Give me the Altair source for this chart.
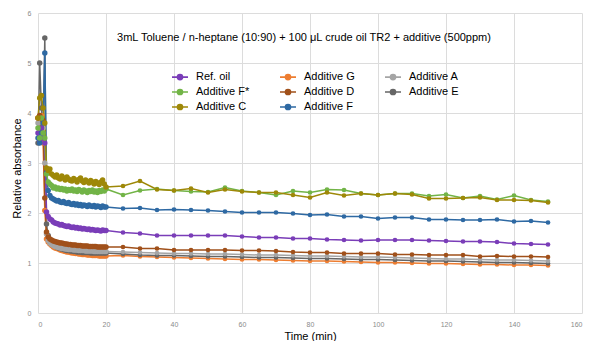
import altair as alt
import pandas as pd

# ---------------- data ----------------
series = ["Ref. oil", "Additive G", "Additive A",
          "Additive F*", "Additive D", "Additive E",
          "Additive C", "Additive F"]
colors = ["#7a3db8", "#ed7d31", "#a5a5a5",
          "#72b447", "#a0501a", "#666666",
          "#9e8808", "#2e69a3"]

dense_t = [i * 0.5 for i in range(41)]          # 0 .. 20 min
sparse_t = [25 + 5 * i for i in range(26)]      # 25 .. 150 min

ref_dense = [3.6, 3.45, 3.7, 3.5, 3.4, 2.02, 1.93, 1.88, 1.86, 1.82, 1.80, 1.79, 1.78, 1.76, 1.77, 1.75,
             1.74, 1.73, 1.74, 1.72, 1.71, 1.72, 1.70, 1.71, 1.69, 1.70, 1.68, 1.69, 1.68, 1.67, 1.68,
             1.66, 1.67, 1.66, 1.65, 1.66, 1.65, 1.64, 1.66, 1.65, 1.65]
ref_sparse = [1.61, 1.59, 1.55, 1.55, 1.55, 1.55, 1.55, 1.53, 1.51, 1.51, 1.49, 1.49, 1.47, 1.46, 1.45,
              1.46, 1.46, 1.46, 1.45, 1.44, 1.43, 1.43, 1.42, 1.39, 1.38, 1.37]

g_dense = [3.9, 3.6, 3.95, 3.4, 2.05, 1.48, 1.42, 1.38, 1.35, 1.32, 1.30, 1.29, 1.28, 1.26, 1.25, 1.24,
           1.23, 1.22, 1.22, 1.21, 1.20, 1.20, 1.19, 1.19, 1.18, 1.18, 1.17, 1.17, 1.17, 1.16, 1.16,
           1.16, 1.15, 1.15, 1.15, 1.15, 1.14, 1.14, 1.14, 1.14, 1.14]
g_sparse = [1.15, 1.13, 1.12, 1.11, 1.10, 1.09, 1.08, 1.07, 1.07, 1.06, 1.05, 1.04, 1.04, 1.03, 1.02,
            1.01, 1.01, 1.00, 0.99, 0.99, 0.98, 0.97, 0.97, 0.96, 0.96, 0.95]

a_dense = [3.8, 3.6, 3.5, 3.7, 3.0, 1.58, 1.45, 1.40, 1.37, 1.35, 1.33, 1.32, 1.31, 1.30, 1.29, 1.29,
           1.28, 1.28, 1.27, 1.27, 1.27, 1.26, 1.26, 1.26, 1.25, 1.25, 1.25, 1.25, 1.24, 1.24, 1.24,
           1.24, 1.24, 1.23, 1.23, 1.23, 1.23, 1.23, 1.23, 1.23, 1.23]
a_sparse = [1.22, 1.21, 1.20, 1.19, 1.19, 1.18, 1.18, 1.17, 1.16, 1.16, 1.15, 1.14, 1.14, 1.13, 1.12,
            1.12, 1.11, 1.10, 1.09, 1.08, 1.08, 1.07, 1.06, 1.06, 1.05, 1.04]

fs_dense = [3.7, 3.5, 3.9, 3.6, 3.5, 2.78, 2.62, 2.58, 2.55, 2.50, 2.52, 2.48, 2.50, 2.47, 2.49, 2.46,
            2.48, 2.44, 2.47, 2.45, 2.48, 2.44, 2.46, 2.43, 2.47, 2.45, 2.42, 2.46, 2.44, 2.41, 2.45,
            2.43, 2.46, 2.42, 2.44, 2.41, 2.45, 2.43, 2.46, 2.44, 2.48]
fs_sparse = [2.36, 2.45, 2.48, 2.45, 2.43, 2.42, 2.51, 2.44, 2.41, 2.36, 2.44, 2.41, 2.47, 2.46, 2.39,
             2.36, 2.39, 2.39, 2.34, 2.37, 2.30, 2.34, 2.27, 2.35, 2.26, 2.23]

d_dense = [3.9, 3.95, 3.7, 3.85, 2.3, 1.62, 1.52, 1.48, 1.46, 1.44, 1.43, 1.42, 1.41, 1.40, 1.40, 1.39,
           1.38, 1.38, 1.37, 1.37, 1.36, 1.36, 1.36, 1.35, 1.35, 1.35, 1.34, 1.34, 1.34, 1.34, 1.33,
           1.33, 1.33, 1.33, 1.33, 1.32, 1.32, 1.32, 1.32, 1.32, 1.32]
d_sparse = [1.32, 1.29, 1.29, 1.26, 1.26, 1.26, 1.26, 1.25, 1.25, 1.24, 1.22, 1.21, 1.21, 1.19, 1.19,
            1.19, 1.17, 1.17, 1.16, 1.16, 1.16, 1.13, 1.14, 1.13, 1.13, 1.12]

e_dense = [3.4, 5.0, 4.1, 3.5, 5.5, 1.78, 1.55, 1.45, 1.40, 1.37, 1.34, 1.32, 1.30, 1.29, 1.28, 1.27,
           1.26, 1.25, 1.25, 1.24, 1.24, 1.23, 1.23, 1.22, 1.22, 1.22, 1.21, 1.21, 1.21, 1.21, 1.21,
           1.20, 1.20, 1.20, 1.20, 1.20, 1.20, 1.20, 1.20, 1.20, 1.20]
e_sparse = [1.18, 1.16, 1.15, 1.15, 1.14, 1.13, 1.13, 1.12, 1.11, 1.11, 1.10, 1.09, 1.09, 1.08, 1.07,
            1.07, 1.06, 1.05, 1.04, 1.04, 1.03, 1.02, 1.01, 1.01, 1.00, 0.99]

c_dense = [3.9, 4.3, 4.35, 4.1, 3.8, 2.9, 2.85, 2.88, 2.78, 2.75, 2.72, 2.76, 2.70, 2.68, 2.74, 2.70,
           2.66, 2.72, 2.68, 2.65, 2.64, 2.69, 2.66, 2.62, 2.67, 2.70, 2.64, 2.61, 2.66, 2.63, 2.60,
           2.65, 2.62, 2.58, 2.63, 2.60, 2.57, 2.62, 2.66, 2.58, 2.52]
c_sparse = [2.54, 2.64, 2.47, 2.45, 2.49, 2.41, 2.47, 2.43, 2.41, 2.41, 2.36, 2.31, 2.41, 2.35, 2.39,
            2.36, 2.39, 2.37, 2.29, 2.29, 2.30, 2.31, 2.26, 2.26, 2.25, 2.21]

f_dense = [3.5, 3.4, 3.6, 3.8, 5.2, 2.8, 2.45, 2.35, 2.30, 2.28, 2.26, 2.24, 2.25, 2.22, 2.21, 2.23,
           2.20, 2.19, 2.21, 2.18, 2.17, 2.19, 2.16, 2.18, 2.15, 2.17, 2.14, 2.16, 2.15, 2.13, 2.16,
           2.14, 2.13, 2.15, 2.12, 2.14, 2.13, 2.11, 2.14, 2.12, 2.12]
f_sparse = [2.09, 2.10, 2.06, 2.07, 2.06, 2.05, 2.03, 2.01, 2.01, 2.01, 1.99, 1.96, 1.97, 1.93, 1.93,
            1.89, 1.91, 1.91, 1.87, 1.87, 1.86, 1.86, 1.87, 1.83, 1.84, 1.81]

values = {
    "Ref. oil": ref_dense + ref_sparse,
    "Additive G": g_dense + g_sparse,
    "Additive A": a_dense + a_sparse,
    "Additive F*": fs_dense + fs_sparse,
    "Additive D": d_dense + d_sparse,
    "Additive E": e_dense + e_sparse,
    "Additive C": c_dense + c_sparse,
    "Additive F": f_dense + f_sparse,
}
times = dense_t + sparse_t
draw_order = ["Additive G", "Additive E", "Additive A", "Additive D",
              "Ref. oil", "Additive F", "Additive F*", "Additive C"]

rows = []
for k, s in enumerate(draw_order):
    for t, v in zip(times, values[s]):
        rows.append({"series": s, "time": t, "value": v, "order": k,
                     "dense": t <= 20})
df = pd.DataFrame(rows)

title_text = "3mL Toluene / n-heptane (10:90) + 100 \u03bcL crude oil TR2 + additive (500ppm)"

FONT = "Liberation Sans"
legend = alt.Legend(
    title=None, orient="none", legendX=133, legendY=55, columns=3, direction="horizontal",
    symbolType="M-1,0H1M0.32,0A0.32,0.32,0,1,1,-0.32,0A0.32,0.32,0,1,1,0.32,0Z",
    symbolSize=256, symbolStrokeWidth=1.6, labelFontSize=11, labelFont=FONT,
    labelColor="#000000", columnPadding=26, rowPadding=0, labelOffset=7,
)
scale = alt.Scale(domain=series, range=colors)

xenc = alt.X("time:Q", scale=alt.Scale(domain=[0, 160], nice=False),
             axis=alt.Axis(values=list(range(0, 161, 20)), title="Time (min)",
                           titleY=23, titleBaseline="middle"))
yenc = alt.Y("value:Q", scale=alt.Scale(domain=[0, 6], nice=False),
             axis=alt.Axis(values=[0, 1, 2, 3, 4, 5, 6], title="Relative absorbance",
                           titleX=-16, titleY=155))

base = alt.Chart(df)
lines = base.mark_line(strokeWidth=1.5).encode(
    x=xenc, y=yenc,
    stroke=alt.Stroke("series:N", scale=scale, legend=legend),
    detail="series:N",
    order=alt.Order("time:Q"),
)
points = base.mark_point(filled=True, opacity=1).encode(
    x="time:Q", y="value:Q",
    fill=alt.Fill("series:N", scale=scale, legend=legend),
    size=alt.condition("datum.dense", alt.value(30), alt.value(22)),
    order=alt.Order("order:Q"),
)
title = alt.Chart(pd.DataFrame({"t": [title_text]})).mark_text(
    font=FONT, fontSize=11, color="#000000", align="center", baseline="middle"
).encode(text="t:N", x=alt.value(266), y=alt.value(25))

chart = alt.layer(lines, points, title).properties(
    width=544, height=300,
    autosize=alt.AutoSizeParams(type="none"),
    padding={"left": 30, "top": 5, "right": 5, "bottom": 28},
).configure_view(stroke=None).configure_axis(
    domain=False, ticks=False, grid=True, gridColor="#dcdcdc", gridWidth=1,
    labelFont=FONT, labelFontSize=7, labelColor="#8a8a8a", labelPadding=7,
    titleFont=FONT, titleFontSize=11, titleFontWeight="normal", titleColor="#000000",
)

chart.save("out.html", embed_options={"renderer": "svg", "actions": False})
